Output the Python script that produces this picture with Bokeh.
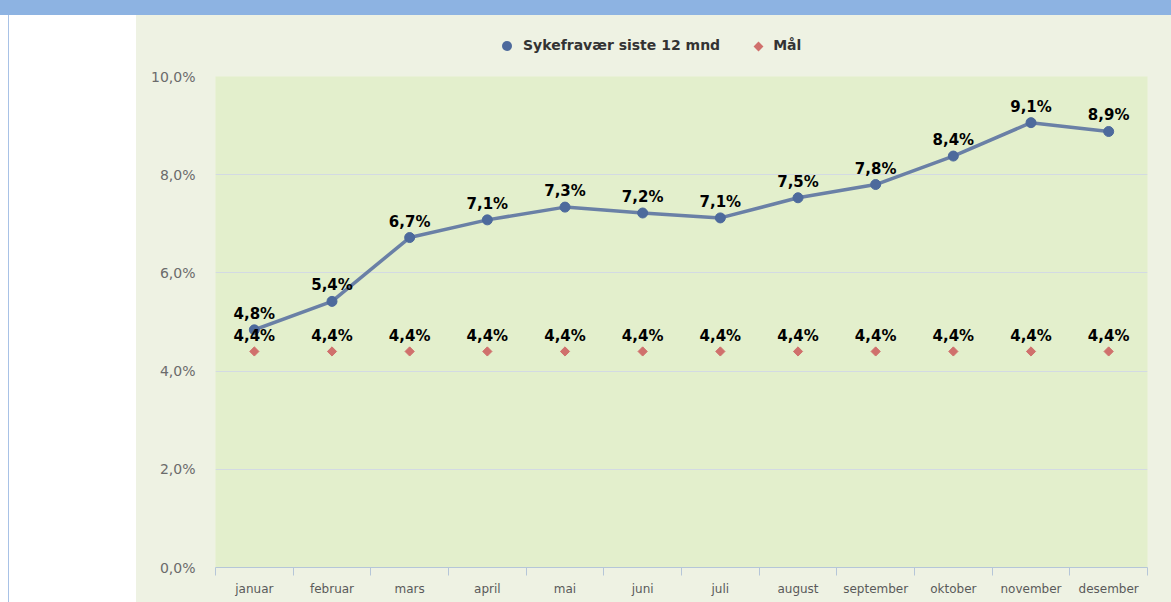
from bokeh.plotting import figure
from bokeh.models import ColumnDataSource, FixedTicker, Div, Range1d
from bokeh.layouts import column, row
from bokeh.embed import file_html
from bokeh.resources import INLINE
from bokeh.core.properties import value
import math

months = ["januar", "februar", "mars", "april", "mai", "juni", "juli",
          "august", "september", "oktober", "november", "desember"]
sykefravaer = [4.84, 5.42, 6.72, 7.08, 7.34, 7.22, 7.12, 7.53, 7.80, 8.38, 9.06, 8.88]
maal = [4.4, 4.4, 4.4, 4.4, 4.4, 4.4, 4.4, 4.4, 4.4, 4.4, 4.4, 4.4]
y_ticks = [0, 2, 4, 6, 8, 10]
y_tick_labels = ["0,0%", "2,0%", "4,0%", "6,0%", "8,0%", "10,0%"]
series_names = ["Sykefravær siste 12 mnd", "Mål"]

LINE_COL = "#6a80a6"
PT_COL = "#4d6a9c"
MAAL_COL = "#d0706c"
BG = "#eef2e3"
FONT = "DejaVu Sans"

def fmt(v):
    return f"{v:.1f}%".replace(".", ",")

x = [i + 0.5 for i in range(len(months))]
src = ColumnDataSource(dict(
    x=x, s=sykefravaer, m=maal,
    s_lbl=[fmt(v) for v in sykefravaer],
    m_lbl=[fmt(v) for v in maal],
))

p = figure(width=1035, height=541, x_range=Range1d(0, len(months)), y_range=Range1d(0, 10),
           output_backend="svg", toolbar_location=None,
           min_border_left=79, min_border_right=24, min_border_top=15, min_border_bottom=35,
           background_fill_color="#e3efcc", border_fill_color=BG,
           outline_line_color=None)

# axes
p.yaxis.ticker = FixedTicker(ticks=y_ticks)
p.yaxis.major_label_overrides = dict(zip(y_ticks, y_tick_labels))
p.yaxis.axis_line_color = None
p.yaxis.major_tick_line_color = None
p.yaxis.minor_tick_line_color = None
p.yaxis.major_label_text_font = FONT
p.yaxis.major_label_text_font_size = "14px"
p.yaxis.major_label_text_color = "#6b6b6b"
p.yaxis.major_label_standoff = 14

p.xaxis.ticker = FixedTicker(ticks=x, minor_ticks=list(range(len(months) + 1)))
p.xaxis.major_label_overrides = dict(zip(x, months))
p.xaxis.axis_line_color = "#b5c6d8"
p.xaxis.major_tick_in = 0
p.xaxis.major_tick_out = 0
p.xaxis.major_tick_line_color = None
p.xaxis.minor_tick_in = 0
p.xaxis.minor_tick_out = 8
p.xaxis.minor_tick_line_color = "#b5c6d8"
p.xaxis.major_label_text_font = FONT
p.xaxis.major_label_text_font_size = "12px"
p.xaxis.major_label_text_color = "#5a5a5a"
p.xaxis.major_label_standoff = 6

p.xgrid.grid_line_color = None
p.ygrid.ticker = FixedTicker(ticks=y_ticks)
p.ygrid.grid_line_color = "#d3dae3"

# series
p.line("x", "s", source=src, line_color=LINE_COL, line_width=3.5)
p.scatter("x", "s", source=src, size=10, fill_color=PT_COL, line_color=PT_COL)
p.scatter("x", "m", source=src, marker="square", angle=math.pi / 4, size=6.5,
          fill_color=MAAL_COL, line_color=MAAL_COL)

p.text("x", "s", text="s_lbl", source=src, y_offset=-16, text_align="center",
       text_baseline="middle", text_font=value(FONT), text_font_style="bold",
       text_font_size="15px", text_color="black")
p.text("x", "m", text="m_lbl", source=src, y_offset=-15, text_align="center",
       text_baseline="middle", text_font=value(FONT), text_font_style="bold",
       text_font_size="15px", text_color="black")

legend_html = (
    f'<div style="font-family:\'{FONT}\';font-weight:bold;font-size:14px;color:#333333;'
    f'padding-left:366px;padding-top:20px;line-height:20px;white-space:nowrap;">'
    f'<span style="display:inline-block;width:10px;height:10px;border-radius:50%;'
    f'background:{PT_COL};margin-right:11px;vertical-align:-1px;"></span>{series_names[0]}'
    f'<span style="display:inline-block;width:7px;height:7px;background:{MAAL_COL};'
    f'transform:rotate(45deg);margin-left:35px;margin-right:11px;vertical-align:0px;"></span>{series_names[1]}'
    f'</div>'
)
legend_div = Div(text=legend_html, width=1035, height=46, margin=0,
                 styles={"background-color": BG})

band = Div(text="", width=1171, height=15, margin=0,
           styles={"background-color": "#8db3e2"})
side = Div(text="", width=136, height=587, margin=0,
           styles={"background": "linear-gradient(to right, white 8px, #a8c2e6 8px, #a8c2e6 9px, white 9px)"})

right = column(legend_div, p, spacing=0, styles={"background-color": BG})
layout = column(band, row(side, right, spacing=0), spacing=0)

open("out.html", "w").write(file_html(layout, INLINE))
